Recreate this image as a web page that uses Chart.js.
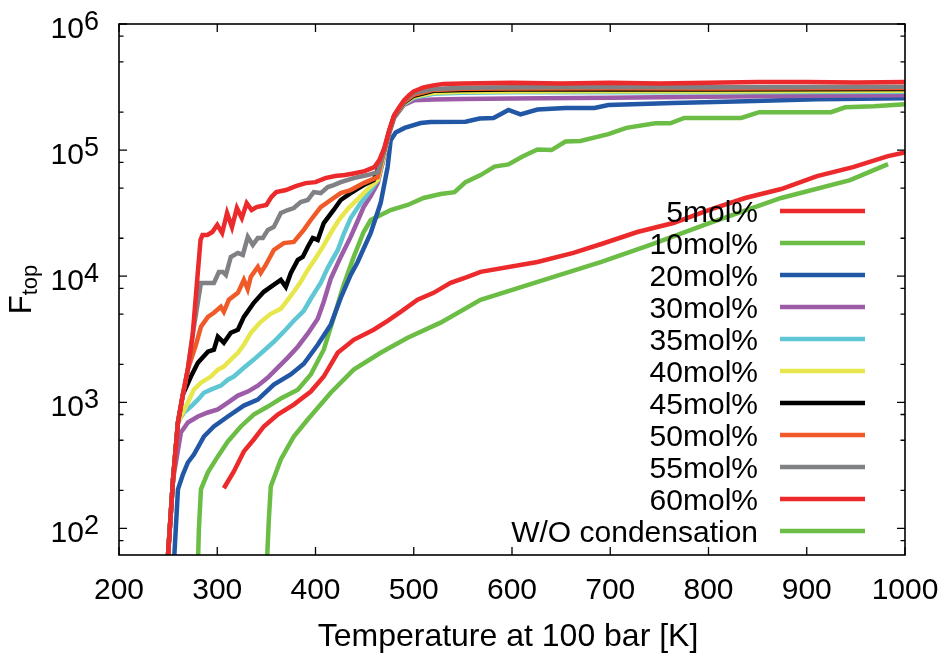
<!DOCTYPE html>
<html>
<head>
<meta charset="utf-8">
<script src="https://cdn.jsdelivr.net/npm/chart.js@4.4.1/dist/chart.umd.min.js"></script>
<style>
  html, body { margin: 0; padding: 0; background: #fff; }
  canvas { display: block; }
</style>
</head>
<body>
<canvas id="chart" width="948" height="659"></canvas>
<script>
// axes
const tempTicks = [200, 300, 400, 500, 600, 700, 800, 900, 1000];
const fluxTicks = [1e2, 1e3, 1e4, 1e5, 1e6];
const fluxTickExp = ['2', '3', '4', '5', '6'];
const fluxMinorTicks = [80, 200, 500, 800, 2000, 5000, 8000, 20000, 50000, 80000, 200000, 500000, 800000];

const seriesLabels = ['5mol%', '10mol%', '20mol%', '30mol%', '35mol%', '40mol%', '45mol%', '50mol%', '55mol%', '60mol%', 'W/O condensation'];
const seriesColors = ['#ec2a2b', '#6bbd45', '#2257a6', '#9c5ca7', '#5fc7d4', '#e7e64c', '#000000', '#f05a28', '#808184', '#ec2a2b', '#6bbd45'];

// temperature at 100 bar [K] / F_top, one pair of arrays per curve
const t5 = [306.7, 316.9, 327.1, 337.2, 347.4, 361.6, 377.9, 395.2, 408.4, 422.6, 438.9, 459.2, 473.4, 486.7, 503.9, 520.2, 537.5, 554.8, 568, 625.9, 662.5, 691, 727.6, 764.2, 800.8, 837.3, 874, 910.5, 947.1, 982.7, 1000];
const f5 = [208, 283, 408, 507, 643, 800, 959, 1216, 1600, 2470, 3130, 3760, 4430, 5220, 6500, 7380, 8850, 9890, 10820, 12970, 15300, 18000, 22400, 26400, 33500, 41700, 49100, 62200, 73300, 89500, 96000];

const t10 = [280.3, 281.3, 283.4, 290.5, 300.6, 310.8, 324, 337.2, 351.5, 364.7, 382, 395.2, 408.4, 418.5, 428.7, 438.9, 449, 456.2, 476.5, 493.8, 510, 527.3, 541.5, 552.7, 568, 582.2, 596.4, 610.7, 625.9, 640.2, 654.4, 669.6, 698.1, 716.4, 745.9, 761.1, 775.3, 833.3, 851.6, 924.8, 939.1, 968.5, 1000];
const f10 = [50, 98, 204, 278, 372, 489, 643, 800, 925, 1070, 1260, 1660, 2610, 4680, 8530, 14220, 22400, 27900, 33500, 36700, 41700, 44800, 46400, 55700, 63400, 74000, 77000, 89000, 101000, 100000, 117000, 118000, 134000, 150000, 163000, 163000, 180000, 180000, 200000, 200000, 218300, 222300, 230700];

const t20 = [256, 260, 265.1, 270.1, 276.2, 286.4, 296.6, 310.8, 327.1, 341.3, 357.6, 374.8, 388.1, 402.3, 415.5, 425.7, 435.8, 442.9, 456.2, 466.3, 473.4, 476.5, 481.6, 490.7, 507, 517.2, 552.7, 567, 581.2, 596.4, 608.6, 625.9, 654.4, 683.9, 698.1, 764.2, 837.3, 910.5, 1000];
const f20 = [55, 204, 268, 333, 385, 535, 643, 771, 942, 1050, 1380, 1660, 2020, 2860, 4120, 6730, 10230, 12970, 22000, 38000, 73300, 119700, 138000, 150000, 164000, 167000, 168000, 178000, 180000, 208000, 192000, 210000, 216000, 216000, 228000, 236000, 244000, 253000, 258000];

const t30 = [249.5, 255, 263, 270.1, 280.3, 290.5, 300.6, 310.8, 321, 331.1, 341.3, 351.5, 361.6, 371.8, 382, 392.1, 402.3, 408.4, 415.5, 425.7, 435.8, 442.9, 449, 456.2, 463.3, 470, 475, 480, 490, 500, 520, 550, 600, 700, 800, 900, 1000];
const f30 = [55, 245, 575, 692, 771, 830, 877, 995, 1130, 1216, 1355, 1570, 1880, 2260, 2760, 3500, 4590, 6270, 9530, 14220, 20500, 27400, 35300, 43200, 54700, 90000, 135000, 180000, 228000, 248000, 252000, 254000, 256000, 260000, 265000, 270000, 272000];

const t35 = [249.5, 255, 260, 266.1, 273.2, 280.3, 286.4, 293.5, 303.7, 310.8, 316.9, 327.1, 337.2, 347.4, 357.6, 367.7, 377.9, 388.1, 395.2, 405.3, 412.5, 422.7, 428.7, 435.8, 446, 456.2, 463.3, 470, 475, 480, 490, 500, 520, 550, 600, 700, 800, 900, 1000];
const f35 = [55, 245, 692, 830, 925, 1050, 1190, 1260, 1355, 1510, 1600, 1880, 2180, 2560, 3020, 3630, 4430, 5320, 6620, 8850, 11640, 16150, 21600, 28900, 38000, 48200, 57800, 95000, 140000, 185000, 232000, 260000, 280000, 285000, 287000, 288000, 287000, 289000, 290000];

const t40 = [249.5, 255, 260, 270.1, 276.2, 283.4, 293.5, 300.6, 306.7, 313.8, 321, 327.1, 334.2, 344.3, 354.5, 364.7, 371.8, 377.9, 385, 392.1, 400.3, 407.4, 415.5, 423.7, 432.8, 443, 453.1, 463.3, 470, 475, 480, 490, 500, 520, 550, 600, 700, 800, 900, 1000];
const f40 = [55, 245, 692, 995, 1260, 1430, 1600, 1815, 1920, 2180, 2470, 2860, 3560, 4350, 5030, 5510, 6500, 7520, 9010, 11200, 13960, 17060, 22000, 27900, 34100, 40900, 49100, 57800, 95000, 140000, 185000, 235000, 265000, 285000, 290000, 292000, 293000, 292000, 294000, 295000];

const t45 = [249.5, 255, 260, 265, 273.2, 280.3, 290.5, 296.6, 300.6, 306.7, 313.8, 321, 327.1, 337.2, 347.4, 354.5, 364.7, 369.8, 374.9, 382, 387, 392.1, 397.2, 402.3, 408.4, 418.5, 425.7, 435.8, 449, 459.2, 465, 470, 475, 480, 490, 500, 520, 550, 600, 700, 800, 900, 1000];
const f45 = [55, 245, 692, 1150, 1600, 2060, 2520, 2610, 3310, 2970, 3560, 3760, 4760, 6150, 7520, 8230, 9350, 8230, 10620, 13460, 14220, 17060, 20100, 19380, 26400, 33500, 40200, 45600, 52800, 57800, 75000, 100000, 140000, 185000, 238000, 270000, 295000, 300000, 302000, 303000, 302000, 304000, 305000];

const t50 = [249.5, 255, 260, 265, 270, 278.3, 283.4, 290.5, 296.6, 303.7, 306.7, 311.8, 321, 327.1, 331, 334.2, 341.3, 344.3, 349.4, 357.6, 367.7, 377.9, 388.1, 395.2, 405.3, 415.5, 425.7, 435.8, 449, 463.3, 470, 475, 480, 490, 500, 520, 550, 600, 700, 800, 900, 1000];
const f50 = [55, 245, 692, 1150, 1815, 2860, 3970, 4760, 5130, 5720, 5220, 6500, 7380, 9350, 7900, 9890, 11860, 10620, 12270, 16150, 18300, 18700, 23300, 27900, 35300, 40200, 45600, 48200, 54700, 61100, 100000, 140000, 185000, 240000, 275000, 300000, 306000, 308000, 309000, 308000, 310000, 311000];

const t55 = [249.5, 255, 260, 265, 270, 275, 283.4, 296.6, 301.7, 305.7, 308.8, 313.8, 321, 326, 331.1, 336.2, 341.3, 346.4, 351.5, 357.6, 364.7, 371.8, 377.9, 385, 392.1, 398.2, 405.3, 412.5, 418.5, 425.7, 438.9, 453.1, 463.3, 470, 475, 480, 490, 500, 520, 550, 600, 700, 800, 900, 1000];
const f55 = [55, 245, 692, 1150, 1815, 3436, 8850, 8850, 10800, 10800, 10230, 14200, 15300, 14750, 20500, 17700, 20100, 20100, 23300, 24600, 31700, 33500, 34700, 38700, 40200, 46400, 45600, 50900, 52800, 55700, 60000, 63400, 66900, 100000, 140000, 185000, 245000, 285000, 305000, 312000, 315000, 316000, 315000, 317000, 318000];

const t60 = [249.5, 255, 260, 265, 270, 275, 280, 283, 285, 290, 295, 300, 305, 310, 315, 320, 325, 330, 335, 340, 350, 355, 360, 370, 380, 390, 400, 410, 420, 430, 440, 450, 460, 465, 470, 475, 480, 485, 490, 495, 500, 510, 520, 530, 550, 600, 650, 700, 750, 800, 850, 900, 950, 1000];
const f60 = [55, 245, 692, 1150, 1815, 3436, 10230, 19400, 21200, 21200, 22400, 25500, 22000, 31700, 24500, 34700, 28900, 38000, 33500, 35300, 36700, 42400, 46400, 48200, 51800, 54700, 55700, 60000, 62200, 63400, 65600, 68100, 73300, 83200, 103500, 143900, 189000, 218000, 248000, 271600, 292400, 314600, 326000, 335000, 338000, 342000, 338000, 342000, 338000, 342000, 346000, 346000, 344000, 346000];

const tNoCond = [350.4, 352.5, 354.5, 364.7, 377.9, 392.1, 415.5, 438.9, 466.3, 493.8, 527.3, 568, 639.1, 691, 740.8, 800.8, 874, 944.1, 982.7];
const fNoCond = [50, 118, 215, 352, 535, 730, 1190, 1815, 2470, 3250, 4280, 6500, 9700, 12970, 17700, 26400, 41700, 57800, 77400];

const curves = [[t5, f5], [t10, f10], [t20, f20], [t30, f30], [t35, f35], [t40, f40], [t45, f45], [t50, f50], [t55, f55], [t60, f60], [tNoCond, fNoCond]];

const FONT = '"Liberation Sans", Arial, Helvetica, sans-serif';

function pairs(t, f) {
  return t.map((v, i) => ({ x: v, y: f[i] }));
}

// gnuplot-like frame, ticks, labels and key, all drawn by hand
const gnuplotLook = {
  id: 'gnuplotLook',
  afterDatasetsDraw(chart) {
    const ctx = chart.ctx;
    const a = chart.chartArea;
    const xs = chart.scales.x;
    const ys = chart.scales.y;
    ctx.save();

    // ticks (inward, mirrored)
    ctx.strokeStyle = '#000';
    ctx.lineWidth = 1.3;
    ctx.beginPath();
    tempTicks.forEach(t => {
      const px = xs.getPixelForValue(t);
      ctx.moveTo(px, a.bottom); ctx.lineTo(px, a.bottom - 8);
      ctx.moveTo(px, a.top); ctx.lineTo(px, a.top + 8);
    });
    fluxTicks.forEach(v => {
      const py = ys.getPixelForValue(v);
      ctx.moveTo(a.left, py); ctx.lineTo(a.left + 8, py);
      ctx.moveTo(a.right, py); ctx.lineTo(a.right - 8, py);
    });
    fluxMinorTicks.forEach(v => {
      const py = ys.getPixelForValue(v);
      ctx.moveTo(a.left, py); ctx.lineTo(a.left + 4.5, py);
      ctx.moveTo(a.right, py); ctx.lineTo(a.right - 4.5, py);
    });
    ctx.stroke();

    ctx.lineWidth = 1.6;
    ctx.strokeRect(a.left, a.top, a.right - a.left, a.bottom - a.top);

    // x tick labels
    ctx.fillStyle = '#000';
    ctx.font = '30px ' + FONT;
    ctx.textAlign = 'center';
    ctx.textBaseline = 'alphabetic';
    tempTicks.forEach(t => ctx.fillText(String(t), xs.getPixelForValue(t), 599));

    // y tick labels 10^n
    fluxTicks.forEach((v, i) => {
      const py = ys.getPixelForValue(v);
      ctx.font = '27px ' + FONT;
      const wSup = ctx.measureText(fluxTickExp[i]).width;
      ctx.font = '30px ' + FONT;
      const wBase = ctx.measureText('10').width;
      const x0 = 99 - wSup - wBase;
      ctx.textAlign = 'left';
      ctx.fillText('10', x0, py + 14);
      ctx.font = '27px ' + FONT;
      ctx.fillText(fluxTickExp[i], x0 + wBase, py + 6);
    });

    // axis titles
    ctx.font = '32px ' + FONT;
    ctx.textAlign = 'center';
    ctx.fillText('Temperature at 100 bar [K]', (a.left + a.right) / 2 - 4, 646);

    ctx.save();
    ctx.translate(31, (a.top + a.bottom) / 2);
    ctx.rotate(-Math.PI / 2);
    ctx.font = '31px ' + FONT;
    const wF = ctx.measureText('F').width;
    ctx.font = '22px ' + FONT;
    const wTop = ctx.measureText('top').width;
    const start = -(wF + wTop) / 2;
    ctx.textAlign = 'left';
    ctx.font = '31px ' + FONT;
    ctx.fillText('F', start, 0);
    ctx.font = '22px ' + FONT;
    ctx.fillText('top', start + wF, 6);
    ctx.restore();

    // key
    ctx.font = '30px ' + FONT;
    ctx.textAlign = 'right';
    chart.data.datasets.forEach((ds, i) => {
      const yRow = 211 + i * 32;
      ctx.fillStyle = '#000';
      ctx.fillText(ds.label, 758, yRow + 10.5);
      ctx.strokeStyle = ds.borderColor;
      ctx.lineWidth = 4.5;
      ctx.beginPath();
      ctx.moveTo(780, yRow);
      ctx.lineTo(865, yRow);
      ctx.stroke();
    });

    ctx.restore();
  }
};

const chartData = {
  datasets: curves.map((c, i) => ({
    label: seriesLabels[i],
    data: pairs(c[0], c[1]),
    borderColor: seriesColors[i],
    backgroundColor: seriesColors[i],
    borderWidth: 4.5,
    pointRadius: 0,
    tension: 0,
    fill: false,
    clip: 0,
    order: curves.length - i   // later curves on top, like gnuplot
  }))
};

const config = {
  type: 'line',
  data: chartData,
  options: {
    responsive: false,
    animation: false,
    layout: { padding: { left: 119, right: 43, top: 24, bottom: 104 } },
    plugins: { legend: { display: false }, tooltip: { enabled: false } },
    scales: {
      x: { type: 'linear', min: 200, max: 1000, display: false },
      y: { type: 'logarithmic', min: 61.5, max: 1e6, display: false }
    }
  },
  plugins: [gnuplotLook]
};

new Chart(document.getElementById('chart').getContext('2d'), config);
</script>
</body>
</html>
